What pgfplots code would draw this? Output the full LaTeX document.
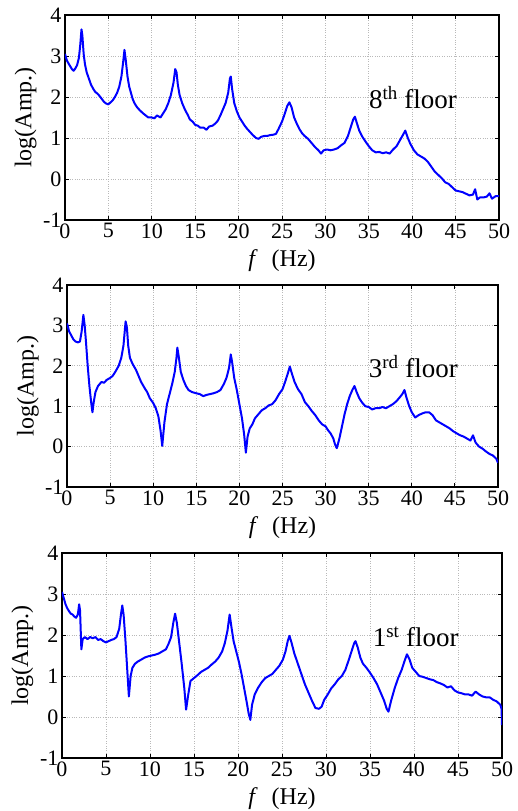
\documentclass[border=0pt]{standalone}
\usepackage{fontspec}
\setmainfont{Liberation Serif}
\usepackage{pgfplots}
\usepackage{pgfplotstable}
\pgfplotsset{compat=1.18}

% spectra: f (Hz), log(Amp.)
\pgfplotstableread{
f v
0 3.05
0.2 2.9
0.4 2.82
0.6 2.75
0.8 2.68
1.0 2.64
1.2 2.70
1.4 2.78
1.6 2.95
1.75 3.25
1.9 3.65
2.0 3.5
2.15 3.05
2.3 2.8
2.5 2.6
2.75 2.45
3.0 2.3
3.25 2.2
3.5 2.12
3.75 2.08
4.0 2.02
4.25 1.95
4.5 1.88
4.75 1.84
5.0 1.82
5.25 1.87
5.5 1.92
5.75 2.0
6.0 2.1
6.25 2.25
6.5 2.5
6.7 2.85
6.85 3.15
7.0 2.9
7.2 2.5
7.4 2.25
7.6 2.1
7.8 1.95
8.0 1.85
8.3 1.75
8.6 1.68
9.0 1.6
9.3 1.55
9.6 1.5
10.0 1.5
10.3 1.48
10.6 1.55
11.0 1.5
11.3 1.6
11.6 1.7
11.9 1.85
12.2 2.05
12.5 2.35
12.7 2.68
12.85 2.6
13.0 2.3
13.2 2.05
13.5 1.85
13.8 1.7
14.1 1.58
14.4 1.45
14.7 1.4
15.0 1.32
15.3 1.3
15.6 1.25
16.0 1.25
16.3 1.2
16.6 1.28
17.0 1.3
17.3 1.35
17.6 1.42
17.9 1.55
18.2 1.7
18.5 1.85
18.8 2.1
19.0 2.45
19.1 2.5
19.25 2.2
19.5 1.85
19.8 1.65
20.1 1.5
20.4 1.4
20.7 1.3
21.0 1.22
21.3 1.15
21.6 1.08
22.0 1.0
22.3 0.98
22.6 1.03
23.0 1.05
23.3 1.05
23.6 1.07
24.0 1.08
24.3 1.1
24.6 1.22
25.0 1.4
25.3 1.58
25.6 1.78
25.85 1.87
26.1 1.75
26.4 1.5
26.7 1.35
27.0 1.22
27.3 1.12
27.6 1.05
28.0 0.98
28.4 0.88
28.8 0.78
29.2 0.7
29.5 0.62
29.8 0.7
30.2 0.72
30.6 0.7
31.0 0.72
31.4 0.75
31.8 0.82
32.2 0.88
32.6 1.05
32.9 1.25
33.2 1.45
33.4 1.52
33.6 1.38
33.9 1.18
34.2 1.05
34.6 0.92
35.0 0.8
35.4 0.7
35.8 0.65
36.2 0.66
36.6 0.63
37.0 0.65
37.4 0.62
37.8 0.72
38.2 0.8
38.6 0.95
39.0 1.1
39.2 1.18
39.5 1.0
39.8 0.85
40.2 0.7
40.6 0.6
41.0 0.55
41.4 0.5
41.8 0.42
42.2 0.3
42.6 0.18
43.0 0.1
43.4 0.02
43.8 -0.08
44.2 -0.12
44.6 -0.2
45.0 -0.28
45.4 -0.3
45.8 -0.32
46.2 -0.36
46.6 -0.4
47.0 -0.38
47.25 -0.25
47.5 -0.5
47.8 -0.45
48.2 -0.45
48.6 -0.43
48.9 -0.35
49.2 -0.48
49.6 -0.42
50.0 -0.42
}\floorEight

\pgfplotstableread{
f v
0 3.05
0.25 2.85
0.5 2.75
0.75 2.65
1.0 2.6
1.25 2.58
1.5 2.6
1.7 2.85
1.9 3.26
2.05 3.0
2.2 2.6
2.4 2.0
2.6 1.5
2.8 1.1
2.95 0.85
3.1 1.1
3.3 1.35
3.6 1.5
4.0 1.6
4.3 1.58
4.6 1.65
5.0 1.7
5.3 1.75
5.6 1.85
6.0 2.0
6.3 2.2
6.55 2.5
6.8 3.1
6.95 2.95
7.1 2.5
7.3 2.2
7.6 2.05
8.0 1.9
8.3 1.75
8.6 1.6
9.0 1.45
9.3 1.35
9.6 1.2
10.0 1.08
10.3 0.95
10.6 0.75
10.85 0.4
11.05 0.02
11.3 0.6
11.6 1.05
11.9 1.3
12.2 1.55
12.5 1.85
12.7 2.2
12.8 2.45
12.95 2.25
13.2 1.85
13.5 1.65
13.8 1.5
14.1 1.4
14.5 1.35
15.0 1.32
15.4 1.3
15.8 1.25
16.2 1.28
16.6 1.3
17.0 1.32
17.4 1.35
17.8 1.4
18.2 1.55
18.5 1.7
18.8 1.95
19.0 2.28
19.15 2.1
19.4 1.7
19.7 1.4
20.0 1.05
20.3 0.7
20.55 0.3
20.75 -0.15
20.95 0.25
21.2 0.45
21.5 0.55
21.8 0.7
22.2 0.8
22.6 0.9
23.0 0.95
23.4 1.02
23.8 1.05
24.2 1.15
24.6 1.3
25.0 1.42
25.3 1.6
25.6 1.8
25.85 1.98
26.1 1.8
26.4 1.6
26.8 1.42
27.2 1.3
27.6 1.1
28.0 1.0
28.4 0.88
28.8 0.78
29.2 0.65
29.6 0.55
30.0 0.5
30.3 0.4
30.6 0.32
30.9 0.2
31.1 0.05
31.3 -0.04
31.6 0.2
31.9 0.5
32.2 0.8
32.5 1.05
32.8 1.25
33.1 1.4
33.35 1.5
33.6 1.35
33.9 1.2
34.2 1.1
34.6 1.0
35.0 0.98
35.4 0.92
35.8 0.95
36.2 0.95
36.6 0.98
37.0 0.95
37.4 1.0
37.8 1.05
38.2 1.12
38.6 1.22
38.9 1.3
39.15 1.4
39.4 1.2
39.7 1.0
40.0 0.85
40.4 0.72
40.8 0.78
41.2 0.82
41.6 0.85
42.0 0.85
42.4 0.78
42.8 0.65
43.2 0.6
43.6 0.55
44.0 0.5
44.4 0.45
44.8 0.38
45.2 0.33
45.6 0.28
46.0 0.25
46.4 0.2
46.8 0.15
47.1 0.28
47.4 0.1
47.8 0.0
48.2 -0.05
48.6 -0.12
49.0 -0.18
49.4 -0.22
49.8 -0.3
50.0 -0.4
}\floorThree

\pgfplotstableread{
f v
0 3.05
0.2 2.9
0.4 2.75
0.6 2.65
0.8 2.58
1.0 2.52
1.2 2.5
1.4 2.45
1.6 2.42
1.8 2.5
1.95 2.75
2.05 2.6
2.2 1.65
2.35 1.9
2.6 1.95
2.9 1.9
3.2 1.95
3.5 1.92
3.8 1.95
4.1 1.88
4.4 1.9
4.7 1.85
5.0 1.82
5.3 1.85
5.6 1.88
5.9 1.9
6.2 1.95
6.5 2.15
6.7 2.5
6.85 2.72
7.0 2.5
7.2 1.9
7.4 1.2
7.6 0.5
7.8 1.0
8.0 1.2
8.3 1.3
8.6 1.35
9.0 1.4
9.4 1.45
9.8 1.48
10.2 1.5
10.6 1.52
11.0 1.55
11.4 1.6
11.8 1.65
12.1 1.78
12.4 1.95
12.65 2.3
12.85 2.52
13.05 2.3
13.3 1.85
13.6 1.3
13.9 0.7
14.1 0.18
14.35 0.55
14.6 0.88
15.0 0.95
15.4 1.02
15.8 1.1
16.2 1.15
16.6 1.2
17.0 1.28
17.4 1.35
17.8 1.45
18.2 1.6
18.5 1.8
18.8 2.1
19.05 2.5
19.25 2.2
19.5 1.85
19.8 1.6
20.1 1.35
20.4 1.05
20.7 0.7
21.0 0.35
21.2 0.1
21.4 -0.07
21.6 0.3
21.9 0.55
22.3 0.72
22.7 0.85
23.1 0.95
23.5 1.0
23.9 1.05
24.3 1.15
24.7 1.25
25.1 1.4
25.4 1.6
25.65 1.85
25.85 1.98
26.1 1.8
26.4 1.55
26.8 1.3
27.2 1.05
27.6 0.8
28.0 0.6
28.4 0.4
28.8 0.22
29.2 0.2
29.5 0.25
29.8 0.42
30.2 0.55
30.6 0.7
31.0 0.8
31.4 0.92
31.8 1.0
32.2 1.15
32.6 1.4
32.9 1.6
33.2 1.8
33.35 1.85
33.6 1.7
33.9 1.45
34.2 1.3
34.6 1.2
35.0 1.08
35.4 0.95
35.8 0.8
36.2 0.6
36.6 0.4
36.9 0.2
37.1 0.13
37.4 0.4
37.8 0.7
38.2 0.95
38.6 1.15
38.9 1.35
39.2 1.53
39.5 1.4
39.8 1.2
40.2 1.1
40.6 1.0
41.0 0.98
41.4 0.95
41.8 0.92
42.2 0.9
42.6 0.85
43.0 0.82
43.4 0.78
43.8 0.72
44.2 0.75
44.6 0.65
45.0 0.6
45.4 0.58
45.8 0.55
46.2 0.55
46.6 0.52
47.0 0.62
47.4 0.55
47.8 0.5
48.2 0.48
48.6 0.48
49.0 0.42
49.4 0.38
49.8 0.3
49.95 0.2
50.0 -0.2
}\floorOne

\pgfplotsset{
  floorax/.style={
    scale only axis,
    anchor=north west,
    xmin=0, xmax=50, ymin=-1, ymax=4,
    xtick={0,5,...,50}, ytick={-1,0,...,4},
    tick align=inside,
    major tick length=4pt,
    every tick/.style={black, line width=0.9pt},
    grid=major,
    grid style={dotted, gray!55, line width=0.7pt},
    axis line style={line width=1.3pt},
    /pgf/number format/assume math mode=true,
    tick label style={font=\fontsize{22}{24}\selectfont},
    label style={font=\fontsize{24}{26}\selectfont},
    xlabel={\textit{f}\,\, (Hz)},
    ylabel={log(Amp.)},
    xlabel style={at={(axis description cs:0.5,0)}, anchor=north, yshift=-29pt, inner sep=0pt},
    ylabel style={at={(axis description cs:-0.065,0.5)}, anchor=south, inner sep=0pt},
  },
  spec/.style={blue, line width=2pt, no marks, line join=round},
}
\tikzset{tag/.style={anchor=base west, inner sep=0pt, font=\fontsize{27}{30}\selectfont}}

\begin{document}
\begin{tikzpicture}
\useasboundingbox (-65pt,15pt) rectangle (453pt,-796pt);

\begin{axis}[floorax, at={(0pt,0pt)}, width=434pt, height=205pt]
  \addplot[spec] table[x=f, y=v] {\floorEight};
  \node[tag] at (axis cs:35,1.73) {8\textsuperscript{th} floor};
\end{axis}

\begin{axis}[floorax, at={(2pt,-270pt)}, width=431pt, height=202pt]
  \addplot[spec] table[x=f, y=v] {\floorThree};
  \node[tag] at (axis cs:35,1.72) {3\textsuperscript{rd} floor};
\end{axis}

\begin{axis}[floorax, at={(-3pt,-538pt)}, width=440pt, height=205pt]
  \addplot[spec] table[x=f, y=v] {\floorOne};
  \node[tag] at (axis cs:35.3,1.71) {1\textsuperscript{st} floor};
\end{axis}
\end{tikzpicture}
\end{document}
